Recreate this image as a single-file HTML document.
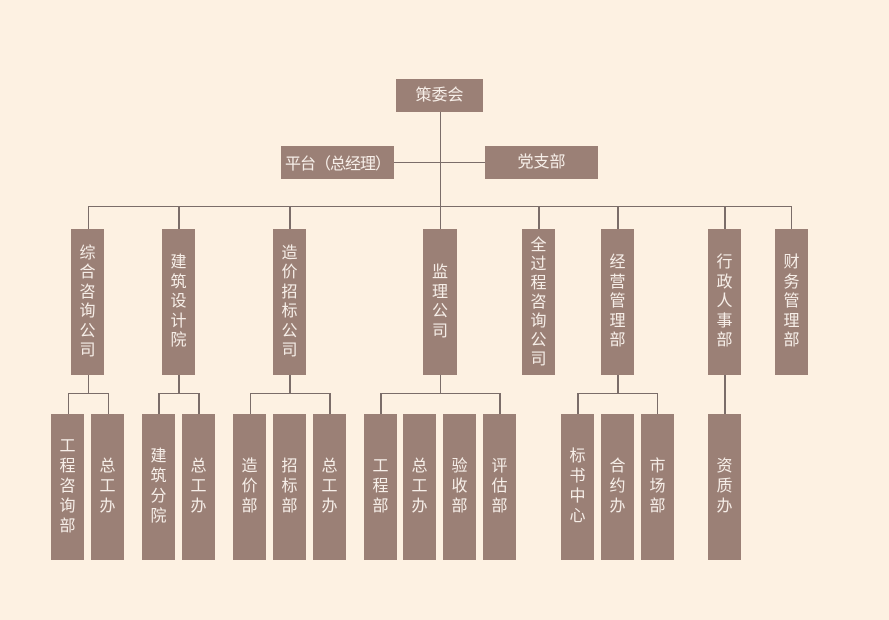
<!DOCTYPE html>
<html><head><meta charset="utf-8"><style>
body{margin:0;width:889px;height:620px;background:#fdf1e2;position:relative;overflow:hidden;font-family:"Liberation Sans","Noto Sans CJK SC",sans-serif}
.b{position:absolute;background:#9b8076;color:#f6eee8;display:flex;align-items:center;justify-content:center;text-align:center;font-size:16px;line-height:19.5px}
.v{width:33px}
.t{top:229px;height:146px}
.s{top:414px;height:146px;line-height:20px}
.l{position:absolute;background:#7b6d69}
.h{height:1.5px}.w{width:1.5px}
</style></head><body>
<div class="b" style="left:396px;top:79px;width:87px;height:33px">策委会</div>
<div class="b" style="left:281px;top:146px;width:113px;height:33px;font-family:'Noto Sans CJK SC',sans-serif;letter-spacing:-1px">平台（总经理）</div>
<div class="b" style="left:485px;top:146px;width:113px;height:33px">党支部</div>
<div class="l w" style="left:439.5px;top:112px;height:117px"></div>
<div class="l h" style="left:394px;top:161.5px;width:91px"></div>
<div class="l h" style="left:87.5px;top:205.5px;width:704px"></div>
<div class="l w" style="left:87.5px;top:206px;height:23px"></div>
<div class="l w" style="left:178px;top:206px;height:23px"></div>
<div class="l w" style="left:289px;top:206px;height:23px"></div>
<div class="l w" style="left:538px;top:206px;height:23px"></div>
<div class="l w" style="left:617px;top:206px;height:23px"></div>
<div class="l w" style="left:724px;top:206px;height:23px"></div>
<div class="l w" style="left:790.5px;top:206px;height:23px"></div>

<div class="b v t" style="left:71px">综<br>合<br>咨<br>询<br>公<br>司</div>
<div class="b v t" style="left:162px">建<br>筑<br>设<br>计<br>院</div>
<div class="b v t" style="left:273px">造<br>价<br>招<br>标<br>公<br>司</div>
<div class="b v t" style="left:423px;width:34px">监<br>理<br>公<br>司</div>
<div class="b v t" style="left:522px;line-height:19px">全<br>过<br>程<br>咨<br>询<br>公<br>司</div>
<div class="b v t" style="left:601px">经<br>营<br>管<br>理<br>部</div>
<div class="b v t" style="left:708px">行<br>政<br>人<br>事<br>部</div>
<div class="b v t" style="left:775px">财<br>务<br>管<br>理<br>部</div>

<div class="l w" style="left:87.5px;top:375px;height:18px"></div>
<div class="l h" style="left:67.5px;top:392.5px;width:41px"></div>
<div class="l w" style="left:67.5px;top:393px;height:21px"></div>
<div class="l w" style="left:107.5px;top:393px;height:21px"></div>

<div class="l w" style="left:178px;top:375px;height:18px"></div>
<div class="l h" style="left:158px;top:392.5px;width:41px"></div>
<div class="l w" style="left:158px;top:393px;height:21px"></div>
<div class="l w" style="left:198px;top:393px;height:21px"></div>

<div class="l w" style="left:289px;top:375px;height:18px"></div>
<div class="l h" style="left:249.5px;top:392.5px;width:81px"></div>
<div class="l w" style="left:249.5px;top:393px;height:21px"></div>
<div class="l w" style="left:329px;top:393px;height:21px"></div>

<div class="l w" style="left:439.5px;top:375px;height:18px"></div>
<div class="l h" style="left:380px;top:392.5px;width:120px"></div>
<div class="l w" style="left:380px;top:393px;height:21px"></div>
<div class="l w" style="left:499px;top:393px;height:21px"></div>

<div class="l w" style="left:617px;top:375px;height:18px"></div>
<div class="l h" style="left:577px;top:392.5px;width:81px"></div>
<div class="l w" style="left:577px;top:393px;height:21px"></div>
<div class="l w" style="left:656.5px;top:393px;height:21px"></div>

<div class="l w" style="left:724px;top:375px;height:39px"></div>

<div class="b v s" style="left:51px">工<br>程<br>咨<br>询<br>部</div>
<div class="b v s" style="left:91px">总<br>工<br>办</div>
<div class="b v s" style="left:142px">建<br>筑<br>分<br>院</div>
<div class="b v s" style="left:182px">总<br>工<br>办</div>
<div class="b v s" style="left:233px">造<br>价<br>部</div>
<div class="b v s" style="left:273px">招<br>标<br>部</div>
<div class="b v s" style="left:313px">总<br>工<br>办</div>
<div class="b v s" style="left:364px">工<br>程<br>部</div>
<div class="b v s" style="left:403px">总<br>工<br>办</div>
<div class="b v s" style="left:443px">验<br>收<br>部</div>
<div class="b v s" style="left:483px">评<br>估<br>部</div>
<div class="b v s" style="left:561px">标<br>书<br>中<br>心</div>
<div class="b v s" style="left:601px">合<br>约<br>办</div>
<div class="b v s" style="left:641px">市<br>场<br>部</div>
<div class="b v s" style="left:708px">资<br>质<br>办</div>
</body></html>
